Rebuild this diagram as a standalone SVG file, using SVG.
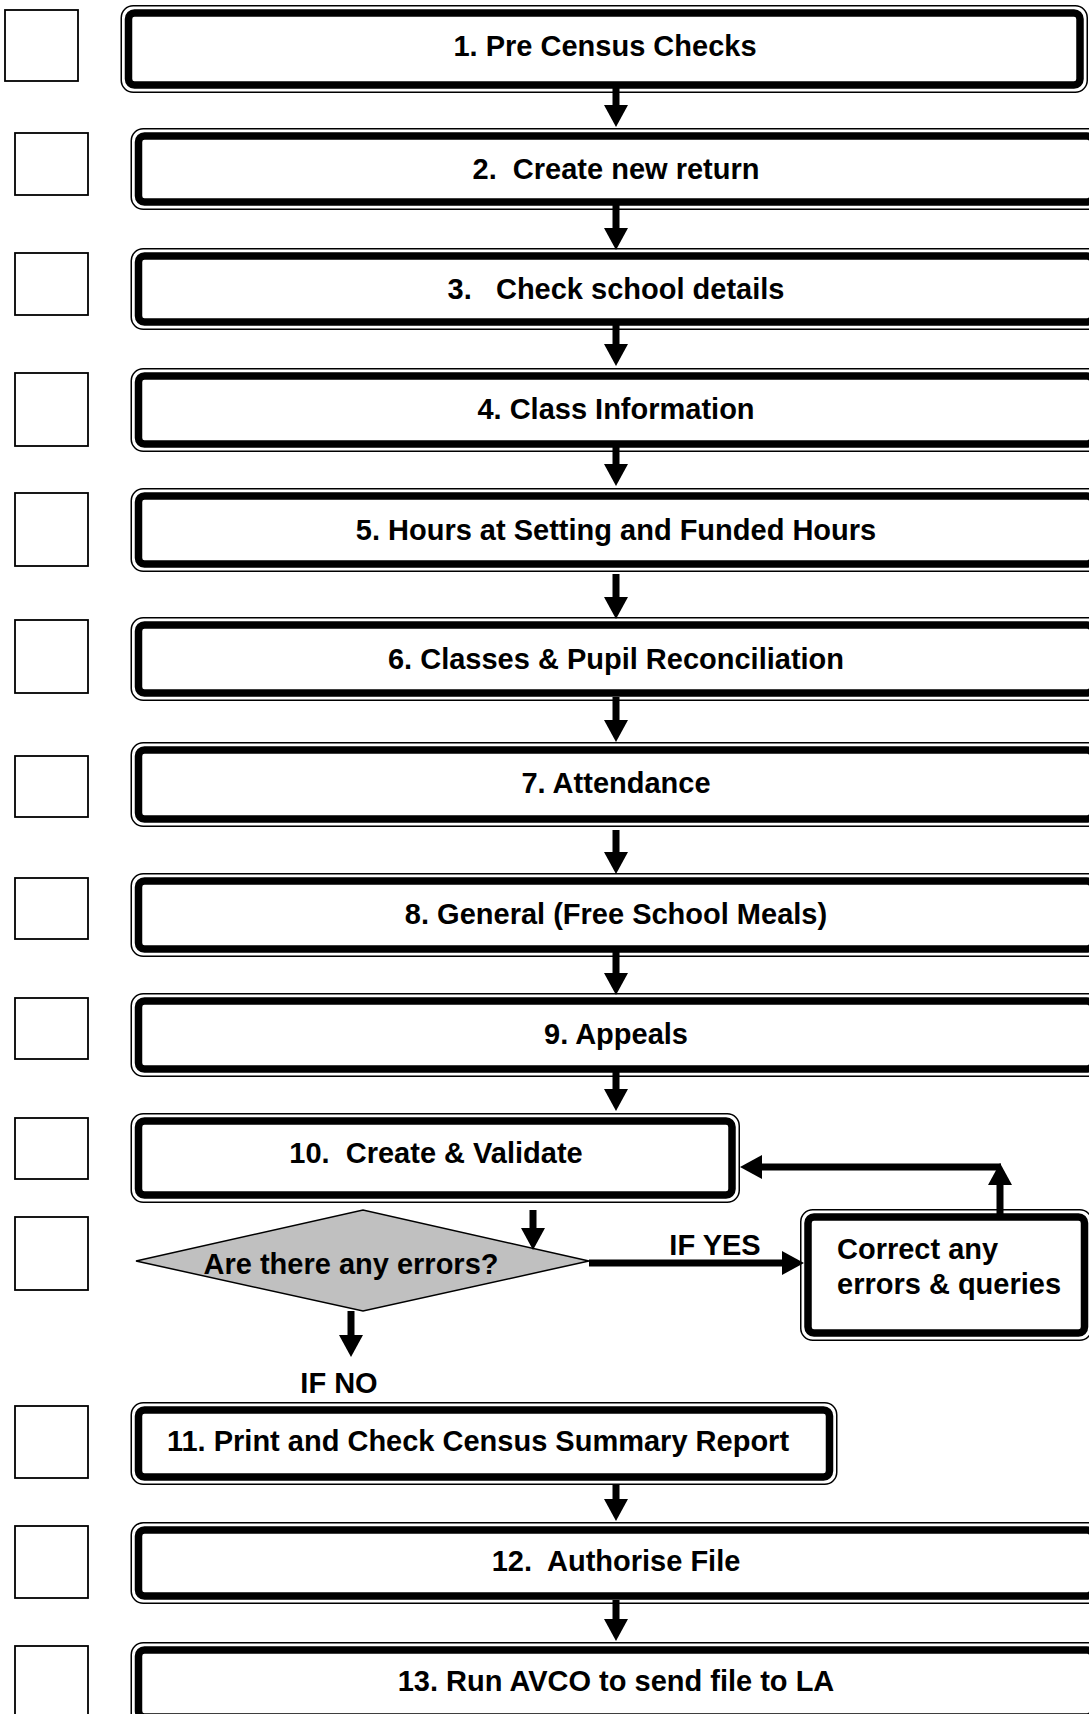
<svg xmlns="http://www.w3.org/2000/svg" width="1089" height="1714" viewBox="0 0 1089 1714" xml:space="preserve">
<style>
.bg{fill:#ffffff}
.outer{fill:#ffffff;stroke:#000;stroke-width:1.5}
.band{fill:none;stroke:#000;stroke-width:7.5}
.chk{fill:#ffffff;stroke:#000;stroke-width:1.8}
.dia{fill:#c0c0c0;stroke:#000;stroke-width:1.5}
.t{font-family:"Liberation Sans",Arial,sans-serif;font-weight:bold;font-size:29px;fill:#000;white-space:pre}
.m{text-anchor:middle}
.conn{stroke:#000;stroke-width:7;fill:none}
</style>
<defs>
<marker id="ah" markerUnits="userSpaceOnUse" markerWidth="22" markerHeight="24" viewBox="0 0 22 24" refX="10" refY="12" orient="auto">
<path d="M0,0 L22,12 L0,24 Z" fill="#000"/>
</marker>
</defs>
<rect class="bg" x="0" y="0" width="1089" height="1714"/>

<g id="checkboxes">
<rect class="chk" x="5" y="10" width="73" height="71"/>
<rect class="chk" x="15" y="133" width="73" height="62"/>
<rect class="chk" x="15" y="253" width="73" height="62"/>
<rect class="chk" x="15" y="373" width="73" height="73"/>
<rect class="chk" x="15" y="493" width="73" height="73"/>
<rect class="chk" x="15" y="620" width="73" height="73"/>
<rect class="chk" x="15" y="756" width="73" height="61"/>
<rect class="chk" x="15" y="878" width="73" height="61"/>
<rect class="chk" x="15" y="998" width="73" height="61"/>
<rect class="chk" x="15" y="1118" width="73" height="61"/>
<rect class="chk" x="15" y="1217" width="73" height="73"/>
<rect class="chk" x="15" y="1406" width="73" height="72"/>
<rect class="chk" x="15" y="1526" width="73" height="72"/>
<rect class="chk" x="15" y="1646" width="73" height="80"/>
</g>

<g id="node1">
<rect class="outer" x="121.25" y="5.75" width="966" height="86.5" rx="12"/>
<rect class="band" x="128.5" y="13" width="951.5" height="72" rx="6"/>
<text class="t m" x="605" y="56">1. Pre Census Checks</text>
</g>
<g id="node2">
<rect class="outer" x="131.25" y="128.75" width="969" height="80.5" rx="12"/>
<rect class="band" x="138.5" y="136" width="954.5" height="66" rx="6"/>
<text class="t m" x="616" y="179">2.  Create new return</text>
</g>
<g id="node3">
<rect class="outer" x="131.25" y="248.75" width="969" height="80.5" rx="12"/>
<rect class="band" x="138.5" y="256" width="954.5" height="66" rx="6"/>
<text class="t m" x="616" y="299">3.   Check school details</text>
</g>
<g id="node4">
<rect class="outer" x="131.25" y="368.75" width="969" height="82.5" rx="12"/>
<rect class="band" x="138.5" y="376" width="954.5" height="68" rx="6"/>
<text class="t m" x="616" y="419">4. Class Information</text>
</g>
<g id="node5">
<rect class="outer" x="131.25" y="488.75" width="969" height="82.5" rx="12"/>
<rect class="band" x="138.5" y="496" width="954.5" height="68" rx="6"/>
<text class="t m" x="616" y="540">5. Hours at Setting and Funded Hours</text>
</g>
<g id="node6">
<rect class="outer" x="131.25" y="617.75" width="969" height="82.5" rx="12"/>
<rect class="band" x="138.5" y="625" width="954.5" height="68" rx="6"/>
<text class="t m" x="616" y="669">6. Classes &amp; Pupil Reconciliation</text>
</g>
<g id="node7">
<rect class="outer" x="131.25" y="742.75" width="969" height="83.5" rx="12"/>
<rect class="band" x="138.5" y="750" width="954.5" height="69" rx="6"/>
<text class="t m" x="616" y="793">7. Attendance</text>
</g>
<g id="node8">
<rect class="outer" x="131.25" y="873.75" width="969" height="82.5" rx="12"/>
<rect class="band" x="138.5" y="881" width="954.5" height="68" rx="6"/>
<text class="t m" x="616" y="924">8. General (Free School Meals)</text>
</g>
<g id="node9">
<rect class="outer" x="131.25" y="993.75" width="969" height="82.5" rx="12"/>
<rect class="band" x="138.5" y="1001" width="954.5" height="68" rx="6"/>
<text class="t m" x="616" y="1044">9. Appeals</text>
</g>
<g id="node10">
<rect class="outer" x="131.25" y="1113.75" width="608" height="88.5" rx="12"/>
<rect class="band" x="138.5" y="1121" width="593.5" height="74" rx="6"/>
<text class="t m" x="436" y="1163">10.  Create &amp; Validate</text>
</g>
<g id="decision">
<polygon class="dia" points="136,1261 363,1210 589,1261 363,1311"/>
<text class="t m" x="351" y="1274">Are there any errors?</text>
</g>
<g id="correct">
<rect class="outer" x="800.75" y="1209.75" width="291" height="130.5" rx="12"/>
<rect class="band" x="808" y="1217" width="276.5" height="116" rx="6"/>
<text class="t" x="837" y="1259">Correct any</text>
<text class="t" x="837" y="1294">errors &amp; queries</text>
</g>
<g id="node11">
<rect class="outer" x="131.25" y="1402.75" width="705.5" height="81.5" rx="12"/>
<rect class="band" x="138.5" y="1410" width="691" height="67" rx="6"/>
<text class="t m" x="478" y="1451">11. Print and Check Census Summary Report</text>
</g>
<g id="node12">
<rect class="outer" x="131.25" y="1522.75" width="969" height="80.5" rx="12"/>
<rect class="band" x="138.5" y="1530" width="954.5" height="66" rx="6"/>
<text class="t m" x="616" y="1571">12.  Authorise File</text>
</g>
<g id="node13">
<rect class="outer" x="131.25" y="1642.75" width="969" height="82" rx="12"/>
<rect class="band" x="138.5" y="1650" width="954.5" height="67" rx="6"/>
<text class="t m" x="616" y="1691">13. Run AVCO to send file to LA</text>
</g>

<g id="connectors">
<line class="conn" x1="616" y1="84" x2="616" y2="115" marker-end="url(#ah)"/>
<line class="conn" x1="616" y1="205" x2="616" y2="238" marker-end="url(#ah)"/>
<line class="conn" x1="616" y1="325" x2="616" y2="354" marker-end="url(#ah)"/>
<line class="conn" x1="616" y1="447" x2="616" y2="474" marker-end="url(#ah)"/>
<line class="conn" x1="616" y1="574" x2="616" y2="607" marker-end="url(#ah)"/>
<line class="conn" x1="616" y1="697" x2="616" y2="730" marker-end="url(#ah)"/>
<line class="conn" x1="616" y1="830" x2="616" y2="862" marker-end="url(#ah)"/>
<line class="conn" x1="616" y1="951" x2="616" y2="983" marker-end="url(#ah)"/>
<line class="conn" x1="616" y1="1071" x2="616" y2="1099" marker-end="url(#ah)"/>
<line class="conn" x1="533" y1="1210" x2="533" y2="1238" marker-end="url(#ah)"/>
<line class="conn" x1="351" y1="1311" x2="351" y2="1345" marker-end="url(#ah)"/>
<line class="conn" x1="589" y1="1263" x2="792" y2="1263" marker-end="url(#ah)"/>
<line class="conn" x1="1000" y1="1215" x2="1000" y2="1175" marker-end="url(#ah)"/>
<line class="conn" x1="1001" y1="1167" x2="752" y2="1167" marker-end="url(#ah)"/>
<line class="conn" x1="616" y1="1485" x2="616" y2="1509" marker-end="url(#ah)"/>
<line class="conn" x1="616" y1="1600" x2="616" y2="1629" marker-end="url(#ah)"/>
<text class="t m" x="715" y="1255">IF YES</text>
<text class="t m" x="339" y="1393">IF NO</text>
</g>
</svg>
